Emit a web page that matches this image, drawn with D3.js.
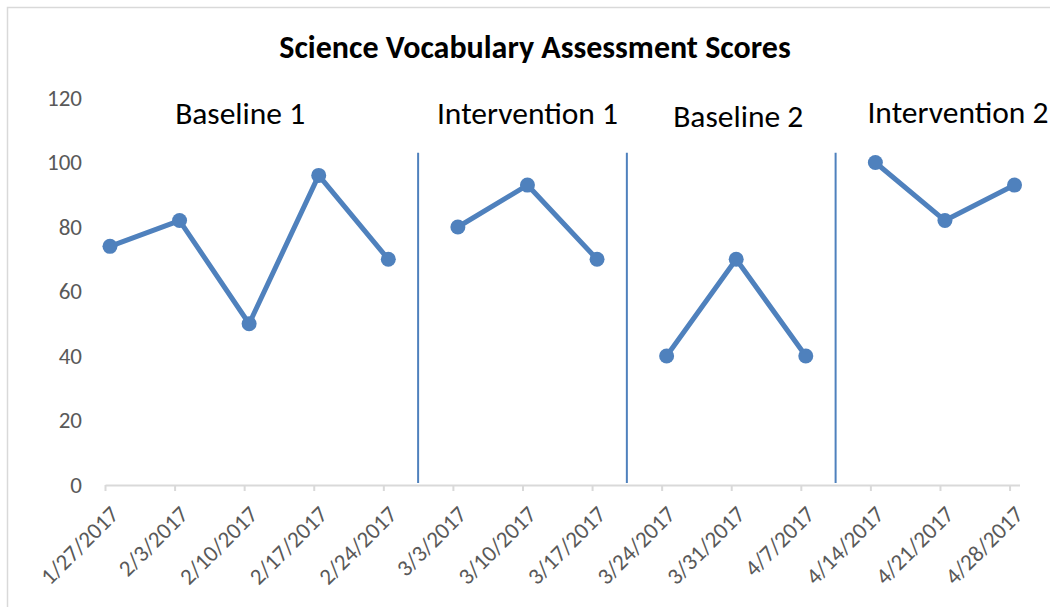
<!DOCTYPE html>
<html>
<head>
<meta charset="utf-8">
<script src="https://cdn.jsdelivr.net/npm/d3@7"></script>
<style>
  body { margin: 0; background: #fff; }
  text { font-family: Carlito, Calibri, Lato, sans-serif; }
</style>
</head>
<body>
<div id="chart-area"></div>
<script>
// weekly test dates and scores
let dates = ["1/27/2017", "2/3/2017", "2/10/2017", "2/17/2017", "2/24/2017",
             "3/3/2017", "3/10/2017", "3/17/2017",
             "3/24/2017", "3/31/2017", "4/7/2017",
             "4/14/2017", "4/21/2017", "4/28/2017"];
let scores = [74, 82, 50, 96, 70, 80, 93, 70, 40, 70, 40, 100, 82, 93];

// which phase each week belongs to
let phaseNames = ["Baseline 1", "Intervention 1", "Baseline 2", "Intervention 2"];
let phaseOf = [0, 0, 0, 0, 0, 1, 1, 1, 2, 2, 2, 3, 3, 3];

let yTicks = [0, 20, 40, 60, 80, 100, 120];

let width = 1050, height = 607;
let blue = "#4f81bd";

let svg = d3.select("#chart-area")
    .append("svg")
    .attr("width", width)
    .attr("height", height);

// chart frame
svg.append("rect")
    .attr("x", 7.5).attr("y", 7.5)
    .attr("width", width).attr("height", height)
    .attr("fill", "#fff")
    .attr("stroke", "#d9d9d9")
    .attr("stroke-width", 1.5);

let parse = d3.utcParse("%m/%d/%Y");
let days = dates.map(parse);

// date axis, one slot per day: ticks at the start of a day, points in the middle
let xScale = d3.scaleUtc()
    .domain([days[0], d3.utcDay.offset(days[days.length - 1], 1)])
    .range([105, 1019.5]);

let yScale = d3.scaleLinear()
    .domain([0, 120])
    .range([485, 98]);

let xMid = function(i){ return xScale(d3.utcHour.offset(days[i], 12)); };

// TITLE
svg.append("text")
    .attr("x", 535)
    .attr("y", 58)
    .attr("text-anchor", "middle")
    .attr("font-size", "32px")
    .attr("font-weight", "bold")
    .attr("fill", "#000")
    .text("Science Vocabulary Assessment Scores");

// Y AXIS (labels only)
let yAxis = d3.axisLeft(yScale).tickValues(yTicks).tickSize(0).tickPadding(23);
let yg = svg.append("g")
    .attr("transform", "translate(105,0)")
    .call(yAxis);
yg.select(".domain").remove();
yg.selectAll("text")
    .attr("font-size", "23px")
    .attr("font-family", null)
    .attr("fill", "#595959");

// X AXIS
let xAxis = d3.axisBottom(xScale)
    .tickValues(days)
    .tickFormat(function(d, i){ return dates[i]; })
    .tickSize(6)
    .tickSizeOuter(0);
let xg = svg.append("g")
    .attr("transform", "translate(0," + yScale(0) + ")")
    .call(xAxis);
xg.select(".domain").attr("stroke", "#d9d9d9").attr("stroke-width", 2);
xg.selectAll(".tick line").attr("stroke", "#d9d9d9").attr("stroke-width", 2);
xg.selectAll("text")
    .attr("font-size", "23px")
    .attr("font-family", null)
    .attr("fill", "#595959")
    .attr("text-anchor", "end")
    .attr("dy", "0.35em")
    .attr("y", 0)
    .attr("transform", "translate(9,25) rotate(-45)");

// phase separators, halfway between the last week of one phase and the next
let breaks = [];
for (let i = 1; i < days.length; i++) {
    if (phaseOf[i] !== phaseOf[i - 1]) breaks.push(d3.utcHour.offset(days[i - 1], 84));
}
svg.selectAll(".phase-line")
    .data(breaks)
    .enter()
    .append("line")
    .attr("class", "phase-line")
    .attr("x1", function(d){ return xScale(d); })
    .attr("x2", function(d){ return xScale(d); })
    .attr("y1", yScale(103))
    .attr("y2", yScale(0.6))
    .attr("stroke", blue)
    .attr("stroke-width", 2);

// one line per phase
let line = d3.line()
    .x(function(i){ return xMid(i); })
    .y(function(i){ return yScale(scores[i]); });

phaseNames.forEach(function(name, p){
    let idx = d3.range(days.length).filter(function(i){ return phaseOf[i] === p; });
    svg.append("path")
        .attr("d", line(idx))
        .attr("fill", "none")
        .attr("stroke", blue)
        .attr("stroke-width", 5)
        .attr("stroke-linejoin", "round");
});

svg.selectAll(".dot")
    .data(scores)
    .enter()
    .append("circle")
    .attr("class", "dot")
    .attr("cx", function(d, i){ return xMid(i); })
    .attr("cy", function(d){ return yScale(d); })
    .attr("r", 7.5)
    .attr("fill", blue);

// phase labels, centred over their weeks (hand nudged like the original text boxes)
let labelNudge = [-9, 0, 2, 13];
let labelY = [124, 124, 127, 123];
phaseNames.forEach(function(name, p){
    let idx = d3.range(days.length).filter(function(i){ return phaseOf[i] === p; });
    let cx = (xMid(idx[0]) + xMid(idx[idx.length - 1])) / 2;
    svg.append("text")
        .attr("x", cx + labelNudge[p])
        .attr("y", labelY[p])
        .attr("text-anchor", "middle")
        .attr("font-size", "31.5px")
        .attr("fill", "#000")
        .text(name);
});
</script>
</body>
</html>
